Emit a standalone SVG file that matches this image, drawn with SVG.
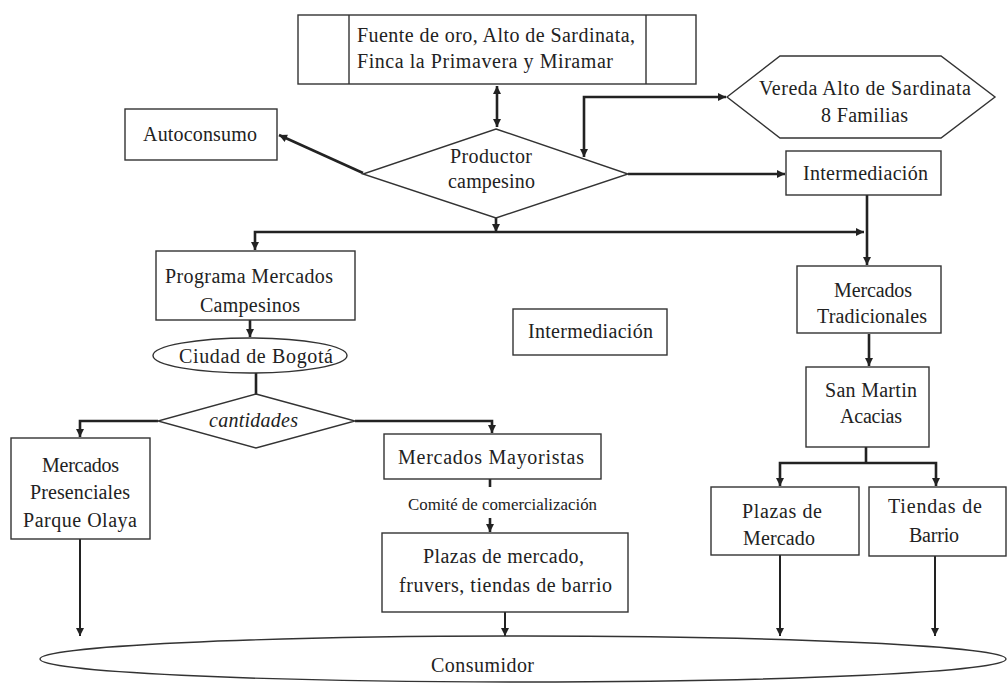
<svg xmlns="http://www.w3.org/2000/svg" width="1008" height="683" viewBox="0 0 1008 683">
<defs>
<marker id="ah" viewBox="0 0 10 10" refX="10" refY="5" markerUnits="userSpaceOnUse" markerWidth="9" markerHeight="8" orient="auto-start-reverse">
<path d="M0,0 L10,5 L0,10 z" fill="#222"/>
</marker>
<style>
.b{fill:#fff;stroke:#333;stroke-width:1.4}
.t{font-family:"Liberation Serif","Times New Roman",serif;font-size:20px;fill:#222;text-anchor:start}
.s{font-size:16px}
.c{fill:none;stroke:#222;stroke-width:2.6}
.n{fill:none;stroke:#222;stroke-width:2}
</style>
</defs>
<rect width="1008" height="683" fill="#fff"/>

<g id="connectors">
<path class="c" d="M497,86 V127" marker-start="url(#ah)" marker-end="url(#ah)"/>
<path class="c" d="M363,173 L279,135" marker-end="url(#ah)"/>
<path class="c" d="M584,157 V97 H726" marker-start="url(#ah)" marker-end="url(#ah)"/>
<path class="c" d="M628,174 H785" marker-end="url(#ah)"/>
<path class="c" d="M867,195 V265" marker-end="url(#ah)"/>
<path class="c" d="M496,218 V232" marker-end="url(#ah)"/>
<path class="c" d="M255,250 V232 H864" marker-start="url(#ah)" marker-end="url(#ah)"/>
<path class="c" d="M250,320 V337" marker-end="url(#ah)"/>
<path class="c" d="M256,373 V394"/>
<path class="c" d="M158,421 H80 V437" marker-end="url(#ah)"/>
<path class="c" d="M355,421 H492 V433" marker-end="url(#ah)"/>
<path class="n" d="M80,539 V636" marker-end="url(#ah)"/>
<path class="c" d="M490,479 V487"/>
<path class="c" d="M490,518 V532" marker-end="url(#ah)"/>
<path class="n" d="M505,612 V636" marker-end="url(#ah)"/>
<path class="c" d="M869,334 V366" marker-end="url(#ah)"/>
<path class="c" d="M866,447 V462"/>
<path class="c" d="M780,486 V463 H936 V486" marker-start="url(#ah)" marker-end="url(#ah)"/>
<path class="n" d="M780,555 V636" marker-end="url(#ah)"/>
<path class="n" d="M935,556 V636" marker-end="url(#ah)"/>
</g>

<g id="fuentes">
<rect class="b" x="298" y="15" width="398" height="69"/>
<path class="b" d="M349,15 V84 M646,15 V84"/>
<text class="t" x="357" y="42" textLength="278">Fuente de oro, Alto de Sardinata,</text>
<text class="t" x="357" y="68" textLength="256">Finca la Primavera y Miramar</text>
</g>

<g id="autoconsumo">
<rect class="b" x="125" y="109" width="152" height="51"/>
<text class="t" x="143" y="141" textLength="114">Autoconsumo</text>
</g>

<g id="productor">
<polygon class="b" points="496,129 628,174 496,218 363,174"/>
<text class="t" x="450" y="163" textLength="82">Productor</text>
<text class="t" x="448" y="188" textLength="87">campesino</text>
</g>

<g id="vereda">
<polygon class="b" points="727,97 780,56 941,56 995,97 941,138 780,138"/>
<text class="t" x="759" y="95" textLength="212">Vereda Alto de Sardinata</text>
<text class="t" x="821" y="122" textLength="87">8 Familias</text>
</g>

<g id="intermediacion1">
<rect class="b" x="786" y="151" width="155" height="44"/>
<text class="t" x="803" y="180" textLength="125">Intermediación</text>
</g>

<g id="programa">
<rect class="b" x="156" y="251" width="199" height="69"/>
<text class="t" x="165" y="283" textLength="168">Programa Mercados</text>
<text class="t" x="200" y="312" textLength="100">Campesinos</text>
</g>

<g id="bogota">
<ellipse class="b" cx="250" cy="355.5" rx="97" ry="17.5"/>
<text class="t" x="179" y="363" textLength="154">Ciudad de Bogotá</text>
</g>

<g id="cantidades">
<polygon class="b" points="256,394 355,421 256,448 158,421"/>
<text class="t" x="209" y="427" textLength="89" font-style="italic">cantidades</text>
</g>

<g id="intermediacion2">
<rect class="b" x="513" y="309" width="154" height="46"/>
<text class="t" x="528" y="338" textLength="125">Intermediación</text>
</g>

<g id="presenciales">
<rect class="b" x="11" y="438" width="139" height="101"/>
<text class="t" x="42" y="472" textLength="77">Mercados</text>
<text class="t" x="30" y="499" textLength="100">Presenciales</text>
<text class="t" x="23" y="527" textLength="114">Parque Olaya</text>
</g>

<g id="mayoristas">
<rect class="b" x="384" y="434" width="217" height="45"/>
<text class="t" x="398" y="464" textLength="186">Mercados Mayoristas</text>
</g>

<g id="comite">
<text class="t s" x="408" y="510" textLength="189" lengthAdjust="spacingAndGlyphs">Comité de comercialización</text>
</g>

<g id="plazas1">
<rect class="b" x="382" y="533" width="246" height="79"/>
<text class="t" x="423" y="563" textLength="161">Plazas de mercado,</text>
<text class="t" x="399" y="592" textLength="213">fruvers, tiendas de barrio</text>
</g>

<g id="tradicionales">
<rect class="b" x="797" y="266" width="144" height="67"/>
<text class="t" x="834" y="297" textLength="78">Mercados</text>
<text class="t" x="817" y="323" textLength="110">Tradicionales</text>
</g>

<g id="sanmartin">
<rect class="b" x="806" y="367" width="123" height="80"/>
<text class="t" x="825" y="397" textLength="92">San Martin</text>
<text class="t" x="840" y="423" textLength="62">Acacias</text>
</g>

<g id="plazas2">
<rect class="b" x="711" y="487" width="148" height="68"/>
<text class="t" x="742" y="518" textLength="80">Plazas de</text>
<text class="t" x="743" y="545" textLength="72">Mercado</text>
</g>

<g id="tiendas">
<rect class="b" x="869" y="487" width="137" height="69"/>
<text class="t" x="888" y="513" textLength="94">Tiendas de</text>
<text class="t" x="909" y="542" textLength="50">Barrio</text>
</g>

<g id="consumidor">
<ellipse class="b" cx="523" cy="659" rx="483" ry="23"/>
<text class="t" x="431" y="672" textLength="103">Consumidor</text>
</g>
</svg>
